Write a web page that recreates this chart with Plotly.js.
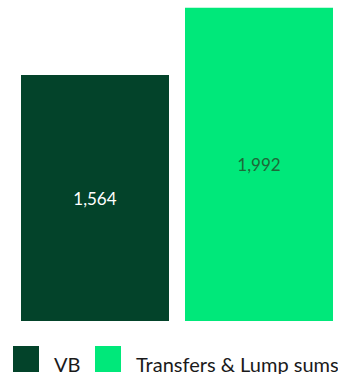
<!DOCTYPE html>
<html>
<head>
<meta charset="utf-8">
<script src="https://cdn.plot.ly/plotly-3.0.1.min.js"></script>
<style>html,body{margin:0;padding:0;background:#fff;}#chart{width:338px;height:374px;}</style>
</head>
<body>
<div id="chart"></div>
<script>
var categories = ["VB", "Transfers & Lump sums"];
var values = [1564, 1992];
var labels = ["1,564", "1,992"];
var colors = ["#03432A", "#00E87A"];
var textColors = ["#ffffff", "#1d6a38"];

var traces = categories.map(function (c, i) {
  return {
    type: "bar",
    x: [c],
    y: [values[i]],
    name: c,
    text: [labels[i]],
    texttemplate: "%{text}",
    textposition: "inside",
    insidetextanchor: "middle",
    textfont: {family: "Lato, sans-serif", size: 17, color: textColors[i]},
    marker: {color: colors[i]},
    hoverinfo: "none",
    showlegend: false
  };
});

var shapes = [];
var annotations = [];
var legendX = [13, 95];
categories.forEach(function (c, i) {
  shapes.push({type: "rect", xref: "paper", yref: "paper",
    x0: (legendX[i] - 13) / 325, x1: (legendX[i] + 13) / 325,
    y0: -(372 - 321) / 321, y1: -(346 - 321) / 321,
    fillcolor: colors[i], line: {width: 0}});
  annotations.push({xref: "paper", yref: "paper", x: (legendX[i] + 26) / 325,
    y: -(364 - 321) / 321, xanchor: "left", yanchor: "middle",
    text: c, showarrow: false,
    font: {family: "Lato, sans-serif", size: 20, color: "#1a1a1a"}});
});

var layout = {
  width: 338, height: 374,
  margin: {l: 13, r: 0, t: 0, b: 53},
  paper_bgcolor: "#fff", plot_bgcolor: "#fff",
  barmode: "overlay",
  bargap: 0.0976,
  xaxis: {type: "category", range: [-0.5, 1.5 - 3 / 164], visible: false, fixedrange: true},
  yaxis: {range: [0, 2040.8], visible: false, fixedrange: true},
  shapes: shapes,
  annotations: annotations,
  showlegend: false
};
Plotly.newPlot("chart", traces, layout, {displayModeBar: false, staticPlot: true});
</script>
</body>
</html>
